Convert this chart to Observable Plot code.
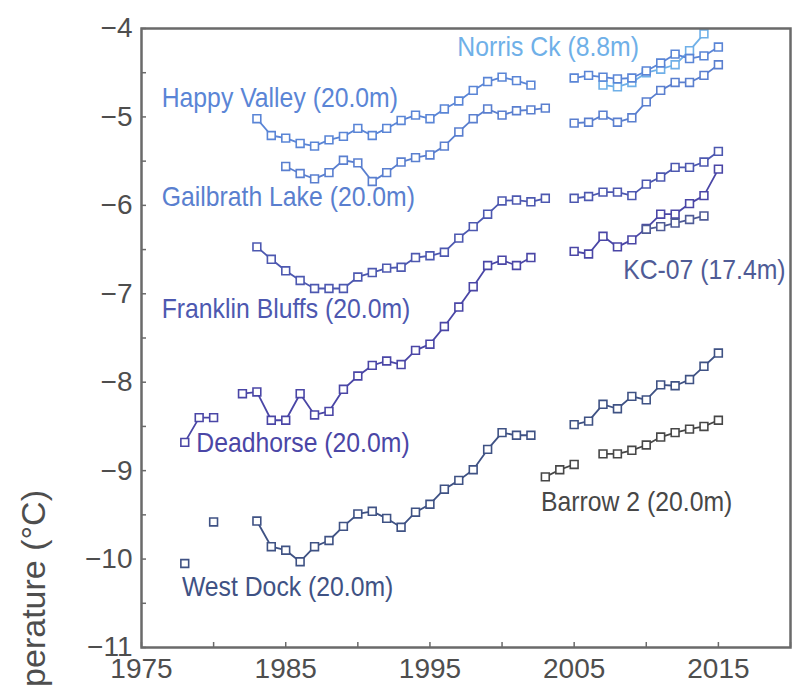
<!DOCTYPE html>
<html>
<head>
<meta charset="utf-8">
<script src="https://cdn.jsdelivr.net/npm/d3@7"></script>
<script src="https://cdn.jsdelivr.net/npm/@observablehq/plot@0.6"></script>
<style>
  body { margin: 0; background: #ffffff; }
  #chart svg { display: block; }
</style>
</head>
<body>
<div id="chart"></div>
<script>
// ---- Data (annual mean permafrost temperature, °C), null = no measurement ----
const seriesNames = ["Norris Ck (8.8m)", "Happy Valley (20.0m)", "Gailbrath Lake (20.0m)", "Franklin Bluffs (20.0m)", "Deadhorse (20.0m)", "KC-07 (17.4m)", "West Dock (20.0m)", "Barrow 2 (20.0m)"];
const seriesColors = ["#6fb0e8", "#5a85d6", "#5a7fcf", "#4d58b0", "#4a46a6", "#4f5b96", "#3f5284", "#474747"];

const norrisStart = 2007;
const norrisValues = [-4.64, -4.66, -4.61, -4.50, -4.46, -4.41, -4.25, -4.06];

const happyStart = 1983;
const happyValues = [-5.02, -5.21, -5.24, -5.30, -5.33, -5.26, -5.22, -5.13, -5.21, -5.13,
  -5.04, -4.98, -5.02, -4.91, -4.82, -4.70, -4.60, -4.55, -4.59, -4.64,
  null, null, -4.56, -4.53, -4.55, -4.57, -4.56, -4.48, -4.39, -4.29, -4.34, -4.31, -4.21];

const gailbrathStart = 1985;
const gailbrathValues = [-5.56, -5.64, -5.70, -5.63, -5.49, -5.52, -5.73, -5.63, -5.51, -5.46,
  -5.43, -5.33, -5.17, -5.02, -4.91, -4.98, -4.93, -4.92, -4.90,
  null, -5.07, -5.06, -4.98, -5.06, -5.01, -4.83, -4.70, -4.61, -4.61, -4.53, -4.41];

const franklinStart = 1983;
const franklinValues = [-6.47, -6.61, -6.74, -6.85, -6.94, -6.94, -6.94, -6.81, -6.76, -6.71,
  -6.70, -6.59, -6.57, -6.53, -6.37, -6.24, -6.10, -5.95, -5.94, -5.96, -5.92,
  null, -5.92, -5.90, -5.85, -5.85, -5.89, -5.76, -5.68, -5.57, -5.57, -5.51, -5.39];

const deadhorseStart = 1978;
const deadhorseValues = [-8.68, -8.40, -8.40, null, -8.13, -8.11, -8.43, -8.43, -8.13, -8.37,
  -8.33, -8.08, -7.93, -7.81, -7.76, -7.80, -7.64, -7.57, -7.37, -7.15,
  -6.92, -6.68, -6.62, -6.68, -6.59, null, null,
  -6.52, -6.55, -6.35, -6.47, -6.39, -6.26, -6.10, -6.10, -5.98, -5.89, -5.59];

const kc07Start = 2010;
const kc07Values = [-6.27, -6.24, -6.20, -6.16, -6.12];

const westDockStart = 1978;
const westDockValues = [-10.05, null, -9.58, null, null, -9.57, -9.86, -9.90, -10.03, -9.86,
  -9.79, -9.63, -9.49, -9.46, -9.54, -9.64, -9.47, -9.38, -9.21, -9.11,
  -8.99, -8.76, -8.57, -8.60, -8.60, null, null,
  -8.48, -8.44, -8.25, -8.30, -8.16, -8.20, -8.03, -8.04, -7.97, -7.82, -7.67];

const barrowStart = 2003;
const barrowValues = [-9.07, -8.99, -8.93, null, -8.81, -8.81, -8.77, -8.71, -8.62, -8.57, -8.53, -8.50, -8.43];

// ---- Series label anchors (left edge year, temperature) ----
const labelYears = [1996.9, 1976.4, 1976.4, 1976.4, 1978.8, 2008.4, 1977.8, 2002.7];
const labelTemps = [-4.21, -4.79, -5.91, -7.17, -8.69, -6.73, -10.32, -9.35];

// ---- Axis ticks ----
const yLabelTicks = [-11, -10, -9, -8, -7, -6, -5, -4];
const yMarkTicks = d3.range(-11, -3.99, 0.5);
const xLabelTicks = [1975, 1985, 1995, 2005, 2015];
const xMarkTicks = d3.range(1975, 2020.01, 5);

const yTitle = "Temperature (°C)";

// ---- Build table ----
const starts = [norrisStart, happyStart, gailbrathStart, franklinStart, deadhorseStart, kc07Start, westDockStart, barrowStart];
const valueLists = [norrisValues, happyValues, gailbrathValues, franklinValues, deadhorseValues, kc07Values, westDockValues, barrowValues];
const data = seriesNames.flatMap((name, k) =>
  valueLists[k].map((v, i) => ({series: name, year: starts[k] + i, temp: v}))
);
const labels = seriesNames.map((name, k) => ({series: name, year: labelYears[k], temp: labelTemps[k]}));

const font = "'Liberation Sans', Arial, Helvetica, sans-serif";
const axisColor = "#6a6a6a";
const textColor = "#4e4e4e";
const fmtY = d => (d < 0 ? "\u2212" : "") + Math.abs(d);

const chart = Plot.plot({
  width: 792,
  height: 688,
  marginLeft: 141,
  marginRight: 2,
  marginTop: 28,
  marginBottom: 41,
  style: {fontFamily: font, background: "#ffffff"},
  x: {domain: [1975, 2020], axis: null},
  y: {domain: [-11, -4], axis: null},
  color: {domain: seriesNames, range: seriesColors},
  marks: [
    Plot.line(data, {x: "year", y: "temp", z: "series", stroke: "series", strokeWidth: 1.8}),
    Plot.dot(data, {x: "year", y: "temp", stroke: "series", symbol: "square", r: 4.4, fill: "white", strokeWidth: 1.6}),
    Plot.text(labels, {x: "year", y: "temp", text: "series", fill: "series", textAnchor: "start", lineAnchor: "middle", fontSize: 28}),
    // tick marks (inward)
    Plot.axisY({ticks: yMarkTicks, tickSize: 5, dx: 5, tickFormat: () => "", stroke: axisColor, strokeWidth: 1.5, label: null}),
    Plot.axisX({ticks: xMarkTicks, tickSize: 5, dy: -5, tickFormat: () => "", stroke: axisColor, strokeWidth: 1.5, label: null}),
    // tick labels
    Plot.axisY({ticks: yLabelTicks, tickSize: 0, tickPadding: 9, fontSize: 28, fill: textColor, tickFormat: fmtY, label: null}),
    Plot.axisX({ticks: xLabelTicks, tickSize: 0, tickPadding: 11, fontSize: 28, fill: textColor, tickFormat: d => String(d), label: null}),
    Plot.frame({stroke: axisColor, strokeWidth: 2.5})
  ]
});

// the reference typeface is slightly condensed: squeeze series labels horizontally
d3.select(chart).selectAll('g[aria-label="text"] text').each(function() {
  const t = this.getAttribute("transform") || "";
  this.setAttribute("transform", t + " scale(0.885,1)");
});

// rotated y-axis title (partially cut off at the bottom edge, as in the reference)
d3.select(chart).append("text")
  .attr("transform", "translate(45,490) rotate(-90)")
  .attr("text-anchor", "end")
  .attr("fill", textColor)
  .attr("font-size", 34)
  .attr("font-family", font)
  .text(yTitle);

document.getElementById("chart").appendChild(chart);
</script>
</body>
</html>
